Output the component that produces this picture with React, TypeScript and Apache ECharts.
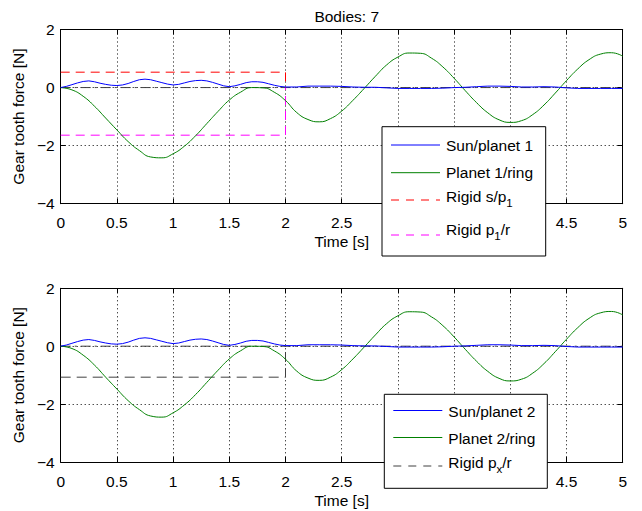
import React, { useEffect, useRef } from 'react';
import * as echarts from 'echarts';

// ---------- data ----------
const title = 'Bodies: 7';
const xTicks = [0, 0.5, 1, 1.5, 2, 2.5, 3, 3.5, 4, 4.5, 5];
const yTicks = [-4, -2, 0, 2];
// tick labels hidden behind the legend boxes in the reference
const hiddenXLabels = [3, 3.5, 4];

const ringTime = [
  0, 0.1, 0.2, 0.3, 0.4, 0.5, 0.6, 0.7, 0.8, 0.9,
  1.0, 1.1, 1.2, 1.3, 1.4, 1.5, 1.6, 1.7, 1.8, 1.9,
  2.0, 2.1, 2.2, 2.3, 2.4, 2.5, 2.6, 2.7, 2.8, 2.9,
  3.0, 3.1, 3.2, 3.3, 3.4, 3.5, 3.6, 3.7, 3.8, 3.9,
  4.0, 4.1, 4.2, 4.3, 4.4, 4.5, 4.6, 4.7, 4.8, 4.9, 5.0,
];
const planet1Ring = [
  0, -0.08, -0.30, -0.64, -1.05, -1.46, -1.86, -2.17, -2.39, -2.42,
  -2.28, -2.02, -1.66, -1.24, -0.82, -0.43, -0.16, 0.0, -0.01, -0.16,
  -0.45, -0.86, -1.10, -1.18, -1.07, -0.81, -0.44, -0.03, 0.39, 0.78,
  1.05, 1.19, 1.18, 1.01, 0.71, 0.32, -0.11, -0.52, -0.87, -1.11,
  -1.20, -1.14, -0.93, -0.60, -0.19, 0.24, 0.64, 0.96, 1.15, 1.20, 1.08,
];
const planet2Ring = [
  0, -0.08, -0.31, -0.65, -1.07, -1.48, -1.88, -2.19, -2.41, -2.45,
  -2.30, -2.03, -1.67, -1.25, -0.83, -0.44, -0.16, 0.0, -0.01, -0.16,
  -0.45, -0.86, -1.10, -1.18, -1.07, -0.81, -0.44, -0.03, 0.39, 0.78,
  1.05, 1.19, 1.18, 1.01, 0.71, 0.32, -0.11, -0.52, -0.87, -1.11,
  -1.20, -1.14, -0.93, -0.60, -0.19, 0.24, 0.64, 0.96, 1.15, 1.20, 1.08,
];

const sunTime = [
  0, 0.05, 0.1, 0.15, 0.2, 0.25, 0.3, 0.35, 0.4, 0.45,
  0.5, 0.55, 0.6, 0.65, 0.7, 0.75, 0.8, 0.85, 0.9, 0.95,
  1.0, 1.05, 1.1, 1.15, 1.2, 1.25, 1.3, 1.35, 1.4, 1.45,
  1.5, 1.55, 1.6, 1.65, 1.7, 1.75, 1.8, 1.85, 1.9, 1.95,
  2.0, 2.1, 2.2, 2.3, 2.4, 2.5, 2.6, 2.7, 2.8, 2.9,
  3.0, 3.1, 3.2, 3.3, 3.4, 3.5, 3.6, 3.7, 3.8, 3.9,
  4.0, 4.1, 4.2, 4.3, 4.4, 4.5, 4.6, 4.7, 4.8, 4.9, 5.0,
];
const sunPlanet1 = [
  0, 0.04, 0.10, 0.16, 0.21, 0.23, 0.20, 0.15, 0.11, 0.08,
  0.07, 0.09, 0.14, 0.21, 0.27, 0.29, 0.27, 0.22, 0.17, 0.12,
  0.09, 0.11, 0.16, 0.21, 0.24, 0.25, 0.23, 0.18, 0.12, 0.06,
  0.03, 0.06, 0.11, 0.17, 0.20, 0.20, 0.18, 0.13, 0.08, 0.04,
  0.02, 0.02, 0.05, 0.05, 0.05, 0.04, 0.02, 0.01, 0.01, -0.01,
  -0.03, -0.03, -0.03, -0.03, -0.02, 0.0, 0.01, 0.03, 0.05, 0.05,
  0.04, 0.02, 0.02, 0.03, 0.02, -0.01, -0.03, -0.03, -0.03, -0.03, -0.03,
];
const sunPlanet2 = [
  0, 0.04, 0.10, 0.16, 0.21, 0.23, 0.20, 0.15, 0.11, 0.08,
  0.07, 0.09, 0.14, 0.21, 0.27, 0.29, 0.27, 0.22, 0.17, 0.12,
  0.09, 0.11, 0.16, 0.21, 0.24, 0.25, 0.23, 0.18, 0.12, 0.06,
  0.03, 0.06, 0.11, 0.17, 0.20, 0.20, 0.18, 0.13, 0.08, 0.04,
  0.02, 0.02, 0.05, 0.05, 0.05, 0.04, 0.02, 0.01, 0.01, -0.01,
  -0.03, -0.03, -0.03, -0.03, -0.02, 0.0, 0.01, 0.03, 0.05, 0.05,
  0.04, 0.02, 0.02, 0.03, 0.02, -0.01, -0.03, -0.03, -0.03, -0.03, -0.03,
];

const rigidTime = [0, 2, 2];
const rigidSP1 = [0.53, 0.53, 0];
const rigidP1R = [-1.64, -1.64, 0];
const rigidPxR = [-1.07, -1.07, 0];
const zeroTime = [0, 5];
const zeroValues = [0, 0];

// ---------- styling ----------
const FONT = '"Liberation Sans", Arial, Helvetica, sans-serif';
const FS = 15.5;
const BLUE = '#0000ff';
const GREEN = '#008000';
const RED = '#ff0000';
const MAGENTA = '#ff00ff';
const DARK = '#404040';
const Z = 100;

const pairs = (t: number[], v: number[]) => t.map((x, i) => [x, v[i]]);
const minusFmt = (v: number) => String(v).replace('-', '\u2212');
const xFmt = (v: number) => (hiddenXLabels.includes(v) ? '' : minusFmt(v));

const GRID_LEFT = 60.7;
const GRID_RIGHT = 642 - 622.7;
const grids = [
  { left: GRID_LEFT, right: GRID_RIGHT, top: 29.5, height: 174.2 },
  { left: GRID_LEFT, right: GRID_RIGHT, top: 288.3, height: 173.7 },
];

function xAxes(gi: number) {
  return [
    {
      type: 'value', gridIndex: gi, min: xTicks[0], max: xTicks[xTicks.length - 1], interval: 0.5,
      position: 'bottom',
      name: 'Time [s]', nameLocation: 'middle', nameGap: 30,
      nameTextStyle: { fontSize: FS, color: '#000', fontFamily: FONT },
      axisLine: { show: true, onZero: false, lineStyle: { color: '#000', width: 1 } },
      axisTick: { show: true, inside: true, length: 5, lineStyle: { color: '#000' } },
      axisLabel: { fontSize: FS, color: '#000', fontFamily: FONT, margin: 11, formatter: xFmt },
      splitLine: { show: true, lineStyle: { color: '#000', type: [1, 3], width: 1 } },
    },
    {
      type: 'value', gridIndex: gi, min: 0, max: 5, interval: 0.5, position: 'top',
      axisLine: { show: true, onZero: false, lineStyle: { color: '#000', width: 1 } },
      axisTick: { show: true, inside: true, length: 5, lineStyle: { color: '#000' } },
      axisLabel: { show: false },
      splitLine: { show: false },
    },
  ];
}
function yAxes(gi: number) {
  return [
    {
      type: 'value', gridIndex: gi, min: yTicks[0], max: yTicks[yTicks.length - 1], interval: 2,
      position: 'left',
      name: 'Gear tooth force [N]', nameLocation: 'middle', nameGap: 31,
      nameTextStyle: { fontSize: FS, color: '#000', fontFamily: FONT },
      axisLine: { show: true, onZero: false, lineStyle: { color: '#000', width: 1 } },
      axisTick: { show: true, inside: true, length: 5, lineStyle: { color: '#000' } },
      axisLabel: { fontSize: FS, color: '#000', fontFamily: FONT, margin: 6, formatter: minusFmt },
      splitLine: { show: true, lineStyle: { color: '#000', type: [1, 3], width: 1 } },
    },
    {
      type: 'value', gridIndex: gi, min: -4, max: 2, interval: 2, position: 'right',
      axisLine: { show: true, onZero: false, lineStyle: { color: '#000', width: 1 } },
      axisTick: { show: true, inside: true, length: 5, lineStyle: { color: '#000' } },
      axisLabel: { show: false },
      splitLine: { show: false },
    },
  ];
}

function line(name: string, data: number[][], axis: number, color: string, type: any, smooth = false) {
  return {
    name, type: 'line', data, xAxisIndex: axis * 2, yAxisIndex: axis * 2,
    showSymbol: false, symbol: 'none', smooth,
    lineStyle: { color, width: 1, type },
    itemStyle: { color },
    emphasis: { disabled: true },
  };
}

function legendBox(
  x: number, y: number, w: number, h: number,
  entries: { text: string; color: string; dash: any; lineY: number; textY: number }[],
) {
  const children: any[] = [
    {
      type: 'rect', z: Z, shape: { x, y, width: w, height: h },
      style: { fill: '#ffffff', stroke: '#000', lineWidth: 1 },
    },
  ];
  entries.forEach((e) => {
    children.push({
      type: 'line', z: Z + 1,
      shape: { x1: x + 9, y1: e.lineY, x2: x + 58, y2: e.lineY },
      style: { stroke: e.color, lineWidth: 1, lineDash: e.dash },
    });
    children.push({
      type: 'text', z: Z + 1, x: x + 64, y: e.textY,
      style: {
        text: e.text, fill: '#000', fontSize: FS, fontFamily: FONT, verticalAlign: 'middle', align: 'left',
        rich: { sub: { fontSize: 11.5, fontFamily: FONT, fill: '#000', color: '#000', padding: [14, 0, 0, 0] } },
      },
    });
  });
  return { type: 'group', z: Z, children };
}

export default function App() {
  const ref = useRef<HTMLDivElement>(null);
  useEffect(() => {
    if (!ref.current) return;
    const chart = echarts.init(ref.current, null, { renderer: 'svg' });
    chart.setOption({
      animation: false,
      backgroundColor: '#fff',
      title: {
        text: title, left: 341.7, top: 3, textAlign: 'center',
        textStyle: { fontSize: FS, fontWeight: 'normal', color: '#000', fontFamily: FONT },
      },
      grid: grids,
      xAxis: [...xAxes(0), ...xAxes(1)],
      yAxis: [...yAxes(0), ...yAxes(1)],
      series: [
        line('zero1', pairs(zeroTime, zeroValues), 0, DARK, [10, 4, 2, 4]),
        line('Rigid s/p1', pairs(rigidTime, rigidSP1), 0, RED, [9, 6]),
        line('Rigid p1/r', pairs(rigidTime, rigidP1R), 0, MAGENTA, [9, 6]),
        line('Planet 1/ring', pairs(ringTime, planet1Ring), 0, GREEN, 'solid', true),
        line('Sun/planet 1', pairs(sunTime, sunPlanet1), 0, BLUE, 'solid'),
        line('zero2', pairs(zeroTime, zeroValues), 1, DARK, [10, 4, 2, 4]),
        line('Rigid px/r', pairs(rigidTime, rigidPxR), 1, DARK, [10, 6]),
        line('Planet 2/ring', pairs(ringTime, planet2Ring), 1, GREEN, 'solid', true),
        line('Sun/planet 2', pairs(sunTime, sunPlanet2), 1, BLUE, 'solid'),
      ],
      graphic: [
        legendBox(382, 126.7, 163.7, 129.3, [
          { text: 'Sun/planet 1', color: BLUE, dash: null, lineY: 145, textY: 145 },
          { text: 'Planet 1/ring', color: GREEN, dash: null, lineY: 172.7, textY: 172.7 },
          { text: 'Rigid s/p{sub|1}', color: RED, dash: [8, 7], lineY: 200, textY: 196 },
          { text: 'Rigid p{sub|1}/r', color: MAGENTA, dash: [8, 7], lineY: 235, textY: 229 },
        ]),
        legendBox(384.3, 394.3, 163, 94, [
          { text: 'Sun/planet 2', color: BLUE, dash: null, lineY: 410.5, textY: 411 },
          { text: 'Planet 2/ring', color: GREEN, dash: null, lineY: 437.5, textY: 438 },
          { text: 'Rigid p{sub|x}/r', color: DARK, dash: [8, 7], lineY: 466, textY: 462 },
        ]),
      ],
    });
    return () => chart.dispose();
  }, []);
  return <div ref={ref} style={{ position: 'absolute', left: 0, top: 0, width: 642, height: 511 }} />;
}
